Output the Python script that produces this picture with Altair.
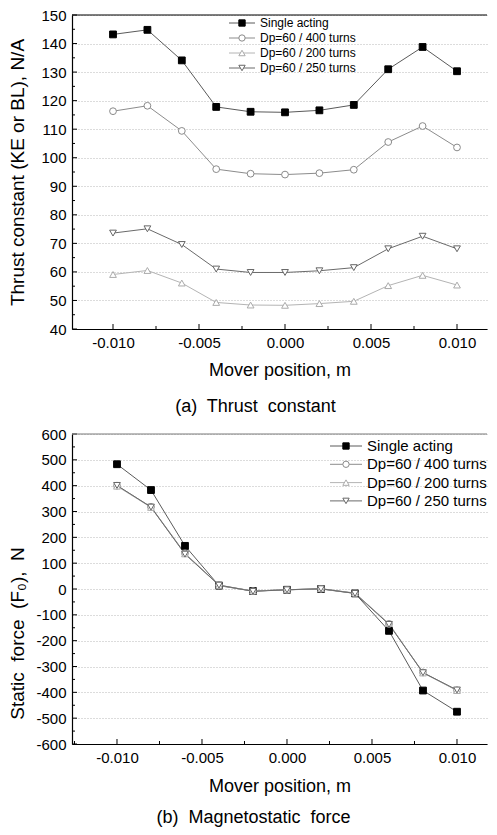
import altair as alt
import pandas as pd

# ---------------- data ----------------
positions = [-0.010, -0.008, -0.006, -0.004, -0.002, 0.000, 0.002, 0.004, 0.006, 0.008, 0.010]
series_names = ["Single acting", "Dp=60 / 400 turns", "Dp=60 / 200 turns", "Dp=60 / 250 turns"]

# (a) Thrust constant, N/A
thrust_single = [143.2, 144.8, 134.1, 117.8, 116.1, 115.9, 116.6, 118.5, 131.0, 138.8, 130.3]
thrust_400 = [116.3, 118.2, 109.4, 96.0, 94.4, 94.1, 94.6, 95.8, 105.5, 111.1, 103.6]
thrust_200 = [59.1, 60.5, 56.1, 49.3, 48.4, 48.3, 48.9, 49.7, 55.2, 58.8, 55.4]
thrust_250 = [73.6, 75.1, 69.6, 61.0, 59.8, 59.8, 60.4, 61.5, 68.1, 72.5, 68.1]

# (b) Magnetostatic force, N
force_single = [483, 383, 167, 13, -8, -3, 0, -17, -162, -393, -475]
force_400 = [400, 318, 138, 15, -8, -3, 1, -16, -135, -323, -392]
force_200 = [398, 316, 136, 14, -8, -3, 1, -16, -134, -325, -393]
force_250 = [401, 317, 135, 15, -9, -3, 1, -17, -137, -324, -391]

# axis ticks
x_major = [-0.010, -0.005, 0.0, 0.005, 0.010]
x_minor = [-0.0125, -0.0075, -0.0025, 0.0025, 0.0075]
thrust_major = [40, 50, 60, 70, 80, 90, 100, 110, 120, 130, 140, 150]
thrust_minor = [45, 55, 65, 75, 85, 95, 105, 115, 125, 135, 145]
force_major = [-600, -500, -400, -300, -200, -100, 0, 100, 200, 300, 400, 500, 600]
force_minor = [-550, -450, -350, -250, -150, -50, 50, 150, 250, 350, 450, 550]

# ---------------- styles ----------------
line_colors = ["#5a5a5a", "#8c8c8c", "#b4b4b4", "#6a6a6a"]
marker_strokes = ["#000000", "#8a8a8a", "#ababab", "#666666"]
marker_fills = ["#000000", "#ffffff", "#ffffff", "#ffffff"]
shapes = ["square", "circle", "triangle-up", "triangle-down"]

FONT = "Liberation Sans"
MINUS = "\u2212"
SP = "\u00a0 "


def long_table(values_list):
    rows = []
    for name, vals in zip(series_names, values_list):
        for xv, yv in zip(positions, vals):
            rows.append({"series": name, "x": xv, "y": yv})
    return pd.DataFrame(rows)


color_scale = alt.Scale(domain=series_names, range=line_colors)
stroke_scale = alt.Scale(domain=series_names, range=marker_strokes)
fill_scale = alt.Scale(domain=series_names, range=marker_fills)
shape_scale = alt.Scale(domain=series_names, range=shapes)


def panel(df, xdom, ydom, ymajor, yminor, ytitle, ytitle_pad, ytitle_y, W, H,
          xtitle_pad, title, title_dx, title_off,
          leg_x0, leg_x1, leg_row0, leg_step, leg_font, top_color):
    xs = alt.Scale(domain=xdom, nice=False, zero=False)
    ys = alt.Scale(domain=ydom, nice=False, zero=False)

    xaxis = alt.Axis(values=x_major, format=".3f", ticks=False, tickSize=0,
                     labelPadding=6, grid=False, domainColor="#000000",
                     labelExpr=f"replace(datum.label, '{MINUS}', '-')",
                     title="Mover position, m", titlePadding=xtitle_pad)
    yaxis_kw = dict(values=ymajor, ticks=False, tickSize=0, labelPadding=6,
                    grid=True, gridColor="#b8b8b8", gridDash=[1, 2], gridWidth=1,
                    domainColor="#000000",
                    labelExpr=f"replace(datum.label, '{MINUS}', '-')",
                    title=ytitle, titlePadding=ytitle_pad, titleFontSize=19)
    if ytitle_y is not None:
        yaxis_kw["titleY"] = ytitle_y
    yaxis = alt.Axis(**yaxis_kw)

    base = alt.Chart(df)
    lines = base.mark_line(strokeWidth=1).encode(
        x=alt.X("x:Q", scale=xs, axis=xaxis),
        y=alt.Y("y:Q", scale=ys, axis=yaxis),
        color=alt.Color("series:N", scale=color_scale, legend=None),
        detail="series:N",
    )
    points = base.mark_point(size=46, strokeWidth=1, opacity=1).encode(
        x=alt.X("x:Q", scale=xs, axis=xaxis),
        y=alt.Y("y:Q", scale=ys, axis=yaxis),
        stroke=alt.Stroke("series:N", scale=stroke_scale, legend=None),
        fill=alt.Fill("series:N", scale=fill_scale, legend=None),
        shape=alt.Shape("series:N", scale=shape_scale, legend=None),
    )

    def xticks(vals, length):
        return alt.Chart(pd.DataFrame({"x": vals})).mark_rule(color="#000000", strokeWidth=1).encode(
            x=alt.X("x:Q", scale=xs, axis=xaxis),
            y=alt.value(H), y2=alt.value(H - length))

    def yticks(vals, length):
        return alt.Chart(pd.DataFrame({"y": vals})).mark_rule(color="#000000", strokeWidth=1).encode(
            y=alt.Y("y:Q", scale=ys, axis=yaxis),
            x=alt.value(0), x2=alt.value(length))

    top_border = alt.Chart(pd.DataFrame({"a": [0]})).mark_rule(
        color=top_color, strokeWidth=1.2).encode(
        x=alt.value(0), x2=alt.value(W), y=alt.value(0))

    leg_df = pd.DataFrame({"series": series_names, "rank": list(range(len(series_names)))})
    leg = alt.Chart(leg_df).transform_calculate(
        ly=f"{leg_row0} + {leg_step} * datum.rank")
    leg_rule = leg.mark_rule(strokeWidth=1).encode(
        x=alt.value(leg_x0), x2=alt.value(leg_x1),
        y=alt.Y("ly:Q", scale=None),
        color=alt.Color("series:N", scale=color_scale, legend=None))
    leg_pt = leg.mark_point(size=40, strokeWidth=1, opacity=1).encode(
        x=alt.value((leg_x0 + leg_x1) / 2),
        y=alt.Y("ly:Q", scale=None),
        stroke=alt.Stroke("series:N", scale=stroke_scale, legend=None),
        fill=alt.Fill("series:N", scale=fill_scale, legend=None),
        shape=alt.Shape("series:N", scale=shape_scale, legend=None))
    leg_txt = leg.mark_text(align="left", baseline="middle", fontSize=leg_font,
                            font=FONT, color="#000000").encode(
        x=alt.value(leg_x1 + 5),
        y=alt.Y("ly:Q", scale=None),
        text="series:N")

    return alt.layer(
        lines, points,
        xticks(x_major, 5), xticks([v for v in x_minor if xdom[0] < v < xdom[1]], 3),
        yticks(ymajor, 5), yticks(yminor, 3),
        top_border, leg_rule, leg_pt, leg_txt,
    ).properties(
        width=W, height=H,
        title=alt.TitleParams(title, orient="bottom", anchor="middle", fontSize=18,
                              fontWeight="normal", font=FONT, offset=title_off, dx=title_dx,
                              color="#000000"),
    )


top = panel(long_table([thrust_single, thrust_400, thrust_200, thrust_250]),
            [-0.012384, 0.011744], [40, 150], thrust_major, thrust_minor,
            "Thrust constant (KE or BL), N/A", 13, None, 415, 314,
            11, f"(a){SP}Thrust{SP}constant", -24, 19,
            157, 183, 8, 15, 12, "#000000")

bottom = panel(long_table([force_single, force_400, force_200, force_250]),
               [-0.012647, 0.011765], [-600, 600], force_major, force_minor,
               f"Static{SP}force{SP}(F\u2080),{SP}N", 8, 199, 415, 310,
               12, f"(b){SP}Magnetostatic{SP}force", -26, 14,
               258, 290, 12, 18.3, 15, "#7a7a7a")

chart = alt.vconcat(top, bottom, spacing=11).properties(
    padding=0
).configure(
    font=FONT
).configure_view(stroke=None).configure_axis(
    labelFont=FONT, titleFont=FONT, labelFontSize=15, titleFontSize=18,
    labelColor="#000000", titleColor="#000000", titleFontWeight="normal",
    domainWidth=1.2,
)

chart.save("out.html", embed_options={"renderer": "svg", "actions": False})
